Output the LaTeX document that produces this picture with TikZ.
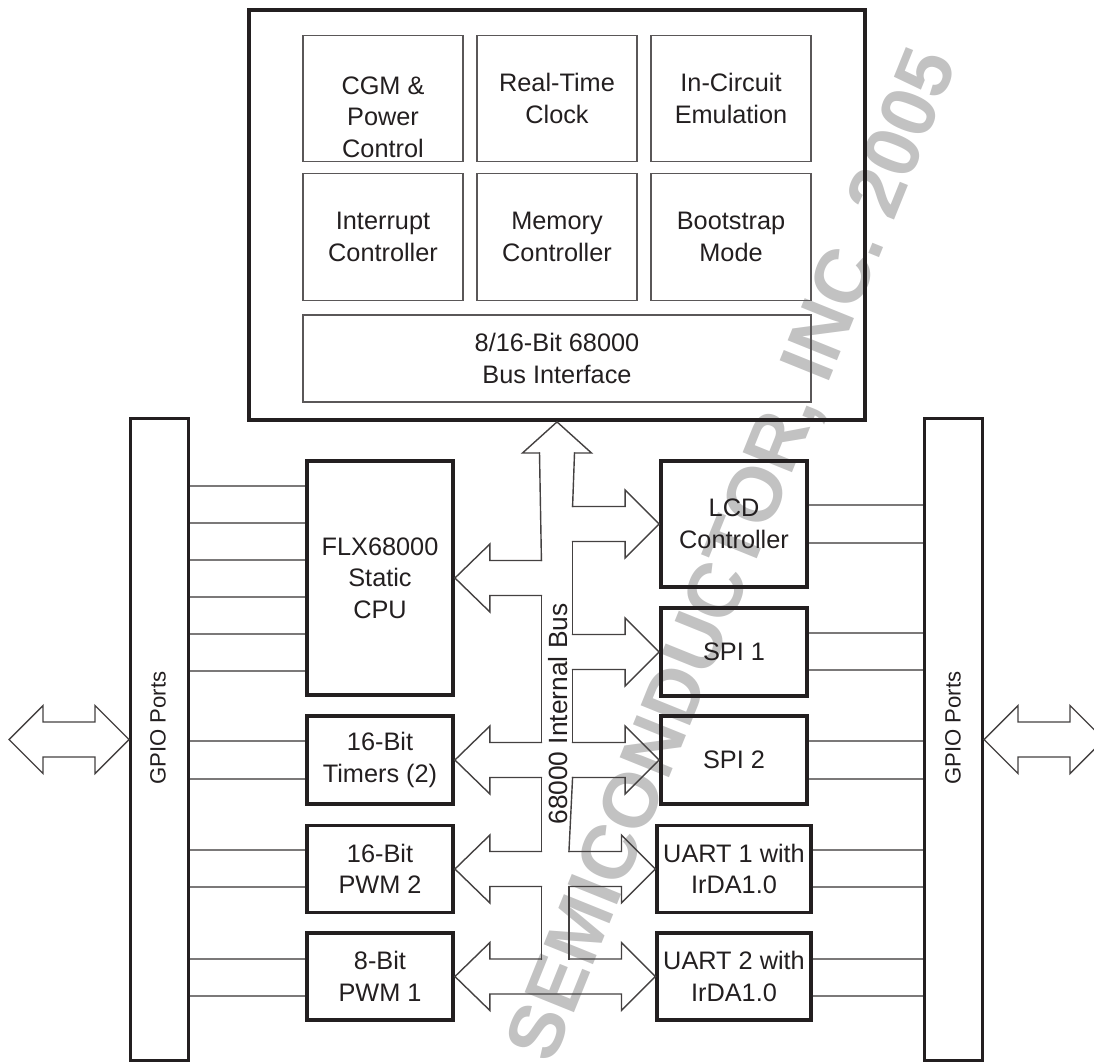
\documentclass[tikz,border=0pt]{standalone}
\usepackage{fontspec}
\setmainfont{Liberation Sans}
\usetikzlibrary{calc}
\definecolor{ink}{HTML}{231F20}
\definecolor{wmgray}{HTML}{C2C2C2}

\begin{document}
\begin{tikzpicture}[x=0.02cm, y=-0.02cm,
  block/.style={rectangle, draw=ink, line width=2.2pt, minimum width=2.92cm, align=center, text=ink, font=\fontsize{14.4}{18}\selectfont},
  cell/.style={rectangle, draw=ink!75, line width=0.7pt, minimum width=3.2cm, minimum height=2.53cm, align=center, text=ink, font=\fontsize{14.4}{18}\selectfont},
  gpio/.style={rectangle, draw=ink, line width=1.7pt, minimum width=1.16cm, minimum height=12.86cm},
  txt/.style={align=center, text=ink, font=\fontsize{14.4}{18}\selectfont},
  bus/.style={draw=ink!85, line width=0.8pt, line cap=rect},
  wire/.style={draw=ink!60, line width=0.7pt},
]
  \useasboundingbox (0,0) rectangle (1094,1061);

  % watermark behind everything
  \node[text=wmgray, font=\fontsize{44}{44}\selectfont\bfseries, rotate=68] (wm) at (736,556) {SEMICONDUCTOR, INC. 2005};

  % top block
  \node[rectangle, draw=ink, line width=2.2pt, minimum width=12.32cm, minimum height=8.2cm] (top) at (557,215) {};
  \node[cell] (cgm) at (383,98.5) {};
  \node[txt] (cgmtext) at (383,117) {CGM \&\\Power\\Control};
  \node[cell] (rtc) at (557,98.5) {Real-Time\\Clock};
  \node[cell] (ice) at (731,98.5) {In-Circuit\\Emulation};
  \node[cell] (intc) at (383,237) {Interrupt\\Controller};
  \node[cell] (memc) at (557,237) {Memory\\Controller};
  \node[cell] (boot) at (731,237) {Bootstrap\\Mode};
  \node[cell, minimum width=10.16cm, minimum height=1.74cm] (busif) at (557,358.5) {8/16-Bit 68000\\Bus Interface};

  % GPIO bars
  \node[gpio] (gpioL) at (159.5,739.5) {};
  \node[gpio] (gpioR) at (953.5,739.5) {};
  \node[txt, rotate=90, font=\fontsize{12.6}{15}\selectfont] (gpioLtext) at (158,728) {GPIO Ports};
  \node[txt, rotate=90, font=\fontsize{12.6}{15}\selectfont] (gpioRtext) at (953,728) {GPIO Ports};

  % left modules
  \node[block, minimum height=4.68cm] (cpu) at (380,578) {FLX68000\\Static\\CPU};
  \node[block, minimum height=1.76cm] (tmr) at (380,760) {16-Bit\\Timers (2)};
  \node[block, minimum height=1.74cm] (pwmb) at (380,869) {16-Bit\\PWM 2};
  \node[block, minimum height=1.74cm] (pwma) at (380,976.5) {8-Bit\\PWM 1};

  % right modules
  \node[block, minimum height=2.52cm] (lcd) at (734,524) {LCD\\Controller};
  \node[block, minimum height=1.76cm] (spia) at (734,652) {SPI 1};
  \node[block, minimum height=1.76cm] (spib) at (734,760) {SPI 2};
  \node[block, minimum height=1.74cm] (uarta) at (734,869) {UART 1 with\\IrDA1.0};
  \node[block, minimum height=1.74cm] (uartb) at (734,976.5) {UART 2 with\\IrDA1.0};

  % port wires
  \foreach \n/\y in {cpu/486, cpu/523, cpu/560, cpu/597, cpu/634, cpu/671, tmr/741, tmr/779, pwmb/850, pwmb/887, pwma/959, pwma/996}
    \draw[wire] (gpioL.east |- 0,\y) -- (\n.west |- 0,\y);
  \foreach \n/\y in {lcd/505, lcd/543, spia/633, spia/670, spib/741, spib/779, uarta/850, uarta/887, uartb/959, uartb/996}
    \draw[wire] (\n.east |- 0,\y) -- (gpioR.west |- 0,\y);

  % internal bus
  \draw[bus] (539.5,453) -- (522.5,453) -- (top.south) -- (591.5,453) -- (574.5,453);
  \draw[bus] (539.5,453) -- ($(cpu.east)+(86.5,-17.5)$);
  \foreach \a/\b in {cpu/tmr, tmr/pwmb, pwmb/pwma}
    \draw[bus] ($(\a.east)+(86.5,17.5)$) -- ($(\b.east)+(86.5,-17.5)$);
  \draw[bus] (574.5,453) -- ($(lcd.west)+(-86.5,-17.5)$);
  \foreach \a/\b in {lcd/spia, spia/spib, spib/uarta, uarta/uartb}
    \draw[bus] ($(\a.west)+(-86.5,17.5)$) -- ($(\b.west)+(-86.5,-17.5)$);
  \foreach \n in {cpu, tmr, pwmb}
    \draw[bus] ($(\n.east)+(86.5,-17.5)$) -- ++(-51.5,0) -- ++(0,-16.5) -- (\n.east) -- ++(35,34) -- ++(0,-16.5) -- ++(51.5,0);
  \foreach \n in {lcd, spia, spib, uarta}
    \draw[bus] ($(\n.west)+(-86.5,-17.5)$) -- ++(52.5,0) -- ++(0,-16.5) -- (\n.west) -- ++(-34,34) -- ++(0,-16.5) -- ++(-52.5,0);
  \draw[bus] ($(pwma.east)+(86.5,-17.5)$) -- ++(-51.5,0) -- ++(0,-16.5) -- (pwma.east) -- ++(35,34) -- ++(0,-16.5)
    -- ($(uartb.west)+(-34,17.5)$) -- ++(0,16.5) -- (uartb.west) -- ++(-34,-34) -- ++(0,16.5) -- ++(-52.5,0);
  \node[txt, rotate=90, font=\fontsize{15}{18}\selectfont] (bustext) at (558,714) {68000 Internal Bus};

  % external port arrows
  \draw[bus] (gpioL.west) -- ++(-34,-34) -- ++(0,16.5) -- ++(-52,0) -- ++(0,-16.5) -- ++(-34,34)
    -- ++(34,34) -- ++(0,-16.5) -- ++(52,0) -- ++(0,16.5) -- cycle;
  \draw[bus] (gpioR.east) -- ++(34,-34) -- ++(0,16.5) -- ++(52,0) -- ++(0,-16.5) -- ++(34,34)
    -- ++(-34,34) -- ++(0,-16.5) -- ++(-52,0) -- ++(0,16.5) -- cycle;
\end{tikzpicture}
\end{document}
